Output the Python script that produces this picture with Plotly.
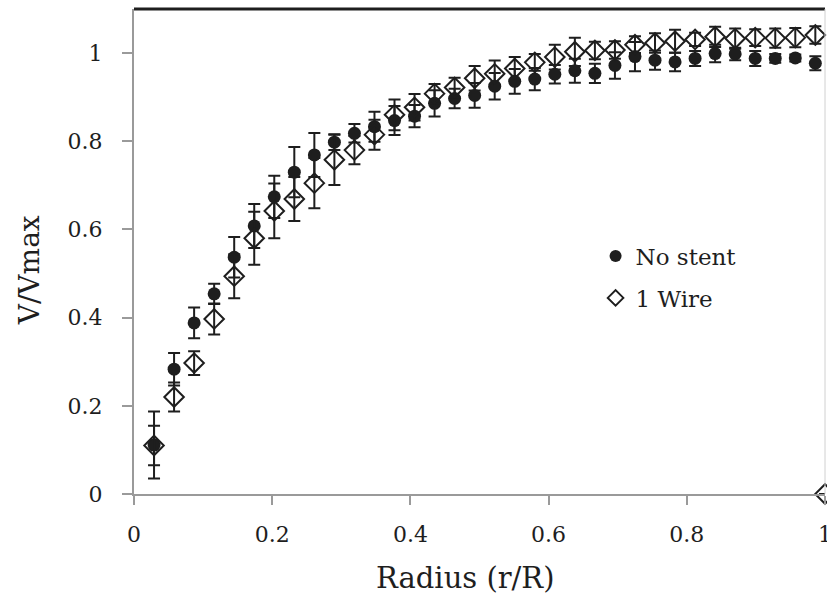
import plotly.graph_objects as go

radius = [0.029, 0.058, 0.087, 0.116, 0.145, 0.174, 0.203, 0.232, 0.261, 0.290,
          0.319, 0.348, 0.377, 0.406, 0.435, 0.464, 0.493, 0.522, 0.551, 0.580,
          0.609, 0.638, 0.667, 0.696, 0.725, 0.754, 0.783, 0.812, 0.841, 0.870,
          0.899, 0.928, 0.957, 0.986]
radius_wire = radius + [1.0]

no_stent = [0.111, 0.283, 0.388, 0.454, 0.537, 0.608, 0.674, 0.730, 0.769, 0.798,
            0.818, 0.833, 0.847, 0.857, 0.886, 0.897, 0.904, 0.925, 0.936, 0.941,
            0.952, 0.960, 0.954, 0.972, 0.992, 0.984, 0.980, 0.988, 0.999, 0.998,
            0.988, 0.988, 0.989, 0.977]
no_stent_err = [0.076, 0.037, 0.035, 0.023, 0.046, 0.050, 0.048, 0.057, 0.050, 0.018,
                0.021, 0.034, 0.033, 0.025, 0.030, 0.022, 0.028, 0.030, 0.028, 0.025,
                0.021, 0.027, 0.022, 0.030, 0.033, 0.022, 0.021, 0.017, 0.020, 0.014,
                0.017, 0.010, 0.008, 0.016]

one_wire = [0.110, 0.220, 0.297, 0.397, 0.494, 0.580, 0.642, 0.669, 0.705, 0.758,
            0.780, 0.815, 0.860, 0.877, 0.908, 0.922, 0.943, 0.953, 0.965, 0.979,
            0.991, 1.003, 1.006, 1.007, 1.019, 1.023, 1.027, 1.031, 1.037, 1.033,
            1.035, 1.034, 1.035, 1.041, 0.0]
one_wire_err = [0.045, 0.033, 0.027, 0.035, 0.050, 0.060, 0.062, 0.050, 0.057, 0.057,
                0.032, 0.034, 0.035, 0.030, 0.022, 0.022, 0.028, 0.030, 0.026, 0.019,
                0.028, 0.032, 0.020, 0.020, 0.019, 0.022, 0.026, 0.015, 0.023, 0.023,
                0.019, 0.022, 0.022, 0.020, 0.0]

x_ticks = [0, 0.2, 0.4, 0.6, 0.8, 1]
x_tick_labels = ["0", "0.2", "0.4", "0.6", "0.8", "1"]
y_ticks = [0, 0.2, 0.4, 0.6, 0.8, 1]
y_tick_labels = ["0", "0.2", "0.4", "0.6", "0.8", "1"]

FONT = "DejaVu Serif"
INK = "#1e1e1e"
AXIS = "#9a9a9a"

fig = go.Figure()
fig.add_trace(go.Scatter(
    x=radius, y=no_stent, mode="markers", name="No stent",
    legendgroup="a",
    marker=dict(symbol="circle", size=13, color=INK, line=dict(width=0)),
    error_y=dict(type="data", array=no_stent_err, color=INK, thickness=2, width=6),
    cliponaxis=False,
))
fig.add_trace(go.Scatter(
    x=radius_wire, y=one_wire, mode="markers", name="1 Wire",
    legendgroup="b",
    marker=dict(symbol="diamond-open", size=15, color=INK, line=dict(width=2, color=INK)),
    error_y=dict(type="data", array=one_wire_err, color=INK, thickness=2, width=6),
    cliponaxis=False,
))

fig.update_layout(
    width=827, height=602,
    margin=dict(l=134, r=2, t=9, b=108, autoexpand=False),
    paper_bgcolor="white", plot_bgcolor="white",
    font=dict(family=FONT, size=22, color=INK),
    showlegend=True,
    legend=dict(x=0.668, y=0.535, xanchor="left", yanchor="top",
                bgcolor="rgba(0,0,0,0)", font=dict(size=23, family=FONT, color=INK),
                itemsizing="constant", tracegroupgap=9),
    xaxis=dict(range=[0, 1], tickvals=x_ticks, ticktext=x_tick_labels,
               automargin=False,
               showgrid=False, zeroline=False, showline=True, linecolor=AXIS, linewidth=2,
               ticks="outside", ticklen=9, tickwidth=2, tickcolor=AXIS,
               ticklabelstandoff=11, ticklabeloverflow="allow",
               tickfont=dict(size=22, family=FONT, color=INK)),
    yaxis=dict(range=[0, 1.1], tickvals=y_ticks, ticktext=y_tick_labels,
               automargin=False,
               showgrid=False, zeroline=False, showline=True, linecolor=AXIS, linewidth=2,
               ticks="outside", ticklen=10, tickwidth=2, tickcolor=AXIS,
               ticklabelstandoff=15, tickfont=dict(size=22, family=FONT, color=INK)),
    shapes=[
        dict(type="line", xref="paper", yref="paper", x0=0, x1=1, y0=1, y1=1,
             line=dict(color=INK, width=3)),
        dict(type="line", xref="paper", yref="paper", x0=1, x1=1, y0=0, y1=1,
             line=dict(color="#d0d0d0", width=1)),
    ],
    annotations=[
        dict(text="Radius (r/R)", xref="paper", yref="paper", x=0.48, y=-0.173,
             xanchor="center", yanchor="middle", showarrow=False,
             font=dict(size=29, family=FONT, color=INK)),
        dict(text="V/Vmax", xref="paper", yref="paper", x=-0.150, y=0.462,
             xanchor="center", yanchor="middle", showarrow=False, textangle=-90,
             font=dict(size=28, family=FONT, color=INK)),
    ],
)

fig.write_html("out.html")
